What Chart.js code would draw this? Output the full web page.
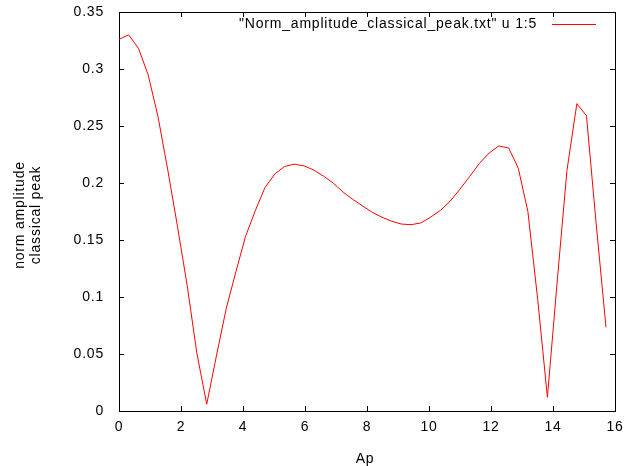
<!DOCTYPE html>
<html>
<head>
<meta charset="utf-8">
<script src="https://cdn.jsdelivr.net/npm/chart.js@4/dist/chart.umd.min.js"></script>
<style>
  html, body { margin: 0; padding: 0; background: #fff; }
  canvas { display: block; }
</style>
</head>
<body>
<canvas id="myChart" width="625" height="466"></canvas>
<script>
// Ap 값 (x축)
const apValues = [
    0, 0.31, 0.63, 0.94, 1.26, 1.57, 1.88, 2.2, 2.51, 2.83,
    3.14, 3.46, 3.77, 4.08, 4.4, 4.71, 5.03, 5.34, 5.65, 5.97,
    6.28, 6.6, 6.91, 7.23, 7.54, 7.85, 8.17, 8.48, 8.8, 9.11,
    9.42, 9.74, 10.05, 10.37, 10.68, 11.0, 11.31, 11.62, 11.94, 12.25,
    12.57, 12.88, 13.19, 13.51, 13.82, 14.14, 14.45, 14.77, 15.08, 15.39,
    15.71
];

// norm amplitude classical peak (u 1:5)
const amplitudeValues = [
    0.326, 0.330, 0.318, 0.295, 0.258, 0.212, 0.163, 0.110, 0.051, 0.006,
    0.048, 0.090, 0.122, 0.153, 0.176, 0.196, 0.208, 0.2145, 0.2165, 0.215,
    0.2114, 0.206, 0.200, 0.192, 0.1857, 0.180, 0.1743, 0.170, 0.1664, 0.164,
    0.1634, 0.165, 0.170, 0.176, 0.184, 0.1946, 0.2057, 0.217, 0.2263, 0.2325,
    0.2307, 0.213, 0.175, 0.097, 0.012, 0.115, 0.211, 0.2696, 0.259, 0.165,
    0.0734
];

// 눈금 값
const xTickValues = [0, 2, 4, 6, 8, 10, 12, 14, 16];
const yTickValues = [0, 0.05, 0.1, 0.15, 0.2, 0.25, 0.3, 0.35];

const legendLabel = '"Norm_amplitude_classical_peak.txt" u 1:5';
const yTitleLines = ["norm amplitude", "classical peak"];
const xTitle = "Ap";

const FONT = '14px "Liberation Sans", Arial, sans-serif';
const TICK_LEN = 5;

// gnuplot 스타일 테두리 + 안쪽 눈금
const frameTicks = {
    id: "frameTicks",
    beforeDraw(chart) {
        chart.ctx.letterSpacing = "0.8px";
    },
    beforeDatasetsDraw(chart) {
        const { ctx, chartArea: a, scales: { x, y } } = chart;
        ctx.save();
        ctx.strokeStyle = "#000";
        ctx.lineWidth = 1;
        ctx.beginPath();
        xTickValues.forEach(v => {
            const px = Math.round(x.getPixelForValue(v)) + 0.5;
            ctx.moveTo(px, a.bottom);
            ctx.lineTo(px, a.bottom - TICK_LEN);
            ctx.moveTo(px, a.top);
            ctx.lineTo(px, a.top + TICK_LEN);
        });
        yTickValues.forEach(v => {
            const py = Math.round(y.getPixelForValue(v)) + 0.5;
            ctx.moveTo(a.left, py);
            ctx.lineTo(a.left + TICK_LEN, py);
            ctx.moveTo(a.right, py);
            ctx.lineTo(a.right - TICK_LEN, py);
        });
        ctx.stroke();
        ctx.strokeRect(a.left + 0.5, a.top + 0.5, a.right - a.left, a.bottom - a.top);
        ctx.restore();
    },
    afterDraw(chart) {
        const { ctx } = chart;
        ctx.save();
        ctx.letterSpacing = "0.8px";
        ctx.font = FONT;
        ctx.fillStyle = "#000";

        // 범례
        ctx.textAlign = "right";
        ctx.textBaseline = "middle";
        ctx.fillText(legendLabel, 537, 24);
        ctx.strokeStyle = "#ff0000";
        ctx.lineWidth = 1;
        ctx.beginPath();
        ctx.moveTo(552, 24.5);
        ctx.lineTo(596, 24.5);
        ctx.stroke();

        // x축 제목
        ctx.textAlign = "center";
        ctx.fillText(xTitle, 365, 459);

        // y축 제목 (회전)
        ctx.textBaseline = "alphabetic";
        yTitleLines.forEach((line, i) => {
            ctx.save();
            ctx.translate(24 + i * 16, 215);
            ctx.rotate(-Math.PI / 2);
            ctx.fillText(line, 0, 0);
            ctx.restore();
        });
        ctx.restore();
    }
};

const ctx = document.getElementById("myChart").getContext("2d");

const chart = new Chart(ctx, {
    type: "line",
    data: {
        datasets: [{
            label: legendLabel,
            data: apValues.map((ap, i) => ({ x: ap, y: amplitudeValues[i] })),
            borderColor: "#ff0000",
            borderWidth: 1,
            pointRadius: 0,
            tension: 0,
            fill: false
        }]
    },
    options: {
        responsive: false,
        animation: false,
        layout: { padding: { top: 12, right: 10, left: 0, bottom: 0 } },
        plugins: {
            legend: { display: false },
            tooltip: { enabled: false }
        },
        scales: {
            x: {
                type: "linear",
                min: 0,
                max: 16,
                grid: { display: false, drawTicks: false },
                border: { display: false },
                ticks: {
                    stepSize: 2,
                    padding: 8,
                    color: "#000",
                    font: { family: '"Liberation Sans", Arial, sans-serif', size: 14 },
                    maxRotation: 0,
                    autoSkip: false
                },
                afterFit(scale) {
                    scale.height = 55;
                    scale.paddingLeft = 0;
                    scale.paddingRight = 0;
                }
            },
            y: {
                min: 0,
                max: 0.35,
                grid: { display: false, drawTicks: false },
                border: { display: false },
                ticks: {
                    stepSize: 0.05,
                    padding: 15,
                    color: "#000",
                    font: { family: '"Liberation Sans", Arial, sans-serif', size: 14 },
                    callback: v => String(+v.toFixed(2))
                },
                afterFit(scale) {
                    scale.width = 119;
                    scale.paddingTop = 0;
                    scale.paddingBottom = 0;
                }
            }
        }
    },
    plugins: [frameTicks]
});
</script>
</body>
</html>
